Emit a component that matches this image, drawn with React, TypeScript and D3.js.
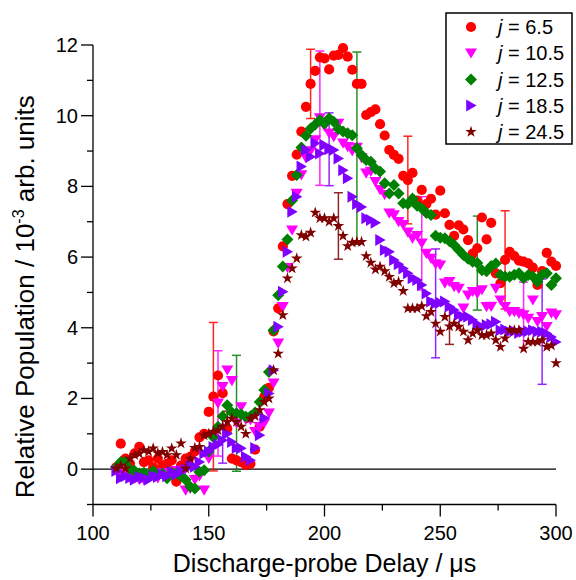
import React from "react";
import * as d3 from "d3";

const delays = [110,112,114,116,118,120,122,124,126,128,130,132,134,136,138,140,142,144,146,148,150,152,154,156,158,160,162,164,166,168,170,172,174,176,178,180,182,184,186,188,190,192,194,196,198,200,202,204,206,208,210,212,214,216,218,220,222,224,226,228,230,232,234,236,238,240,242,244,246,248,250,252,254,256,258,260,262,264,266,268,270,272,274,276,278,280,282,284,286,288,290,292,294,296,298,300];

const j65 = [0.05,0.72,0.3,0.15,0.45,0.63,0.2,0.25,0.05,0.3,
  0.1,0.15,0.25,-0.35,0.1,0.3,0.35,0.5,0.9,1.0,
  1.62,2.05,2.65,2.15,1.15,0.3,0.25,0.2,0.12,0.15,
  0.55,1.2,2.05,2.3,3.9,4.55,6.3,7.5,8.3,8.9,
  9.55,10.25,10.9,11.27,11.65,11.62,11.31,11.7,11.72,11.91,
  11.67,11.3,10.9,10.9,10.02,10.1,10.18,9.76,9.44,9.03,
  8.89,8.78,8.3,8.18,8.38,7.6,7.9,7.5,7.65,7.2,
  7.88,7.24,6.91,6.6,6.9,6.78,6.48,6.1,6.25,7.12,
  6.5,6.97,5.54,5.26,5.92,6.15,6.03,5.9,5.87,5.82,
  5.7,5.21,5.6,6.12,5.87,5.75];

const j105 = [-0.05,-0.15,-0.1,-0.25,-0.2,-0.3,-0.3,-0.2,-0.15,-0.25,
  -0.1,-0.2,-0.1,-0.05,-0.2,-0.6,-0.55,-0.3,-0.2,-0.6,
  0.3,0.9,1.86,2.33,2.8,2.5,1.3,1.76,1.4,1.39,
  1.06,1.2,1.3,1.58,2.43,3.56,4.59,5.7,6.76,7.8,
  8.32,8.8,9.0,9.31,9.93,9.7,9.5,9.4,9.78,9.22,
  9.12,9.0,9.1,8.8,8.37,8.42,8.13,7.9,7.76,7.24,
  7.19,7.0,6.91,6.7,6.53,6.6,6.39,6.1,5.96,5.8,
  5.77,5.26,5.3,5.16,5.11,4.55,4.92,5.02,4.97,5.07,
  4.59,4.6,5.11,4.78,4.59,4.45,4.45,4.4,4.36,4.26,
  4.78,4.17,4.31,4.03,4.41,4.36];

const j125 = [0.05,0.2,0.21,0.0,-0.05,-0.12,-0.1,-0.2,-0.05,-0.15,
  -0.12,-0.26,-0.1,-0.12,-0.2,-0.3,-0.5,-0.55,-0.07,-0.03,
  0.5,0.9,1.2,1.5,1.81,1.6,1.58,1.55,1.48,1.5,
  1.6,1.9,2.24,2.75,3.93,4.92,5.73,6.5,7.6,8.32,
  9.1,9.43,9.64,9.75,9.88,9.78,9.93,9.83,9.62,9.55,
  9.5,9.45,9.08,8.89,8.75,8.7,8.5,8.42,8.09,7.8,
  8.04,7.8,7.52,7.5,7.66,7.45,7.38,7.25,7.19,6.6,
  6.55,6.53,6.45,6.34,6.2,6.06,5.95,5.87,5.83,5.63,
  5.6,5.75,5.82,5.49,5.45,5.44,5.5,5.54,5.4,5.49,
  5.45,5.3,5.5,5.54,5.21,5.4];

const j185 = [-0.05,-0.26,-0.2,-0.25,-0.3,-0.22,-0.25,-0.3,-0.2,-0.22,
  -0.15,-0.2,-0.07,-0.15,-0.05,0.0,0.1,0.07,0.2,0.44,
  0.5,0.63,0.7,0.82,1.0,0.77,0.6,0.59,0.35,0.25,
  0.6,0.96,1.45,2.14,2.8,4.03,5.02,6.15,7.28,7.71,
  8.56,9.03,8.84,9.22,8.93,9.17,9.05,9.03,8.79,8.46,
  8.23,7.71,7.5,7.42,7.1,7.05,6.97,6.48,6.2,6.15,
  5.92,5.8,5.68,5.54,5.4,5.35,5.21,4.97,4.74,4.69,
  4.71,4.74,4.6,4.5,4.36,4.31,4.31,4.22,4.1,4.03,
  4.08,4.1,4.17,3.93,3.95,3.89,3.9,3.85,3.89,3.9,
  3.93,3.89,3.89,3.84,3.74,3.6];

const j245 = [0.02,0.1,0.02,0.3,0.4,0.44,0.54,0.5,0.59,0.45,
  0.49,0.4,0.59,0.4,0.73,0.02,0.3,0.6,0.63,0.96,
  1.0,1.06,1.1,1.2,1.34,1.43,1.34,1.2,1.0,1.43,
  1.5,1.67,1.9,2.0,2.8,3.27,4.36,5.4,5.68,5.96,
  6.62,6.58,6.69,7.26,7.1,7.1,7.0,7.1,6.88,6.6,
  6.31,6.41,6.43,6.43,6.03,5.84,5.65,5.73,5.6,5.44,
  5.26,5.3,5.04,4.55,4.55,4.55,4.61,4.33,4.45,4.12,
  3.89,4.31,4.04,4.12,4.03,3.89,3.65,3.84,3.93,3.79,
  3.79,3.84,3.65,3.46,3.7,3.93,3.93,3.93,3.41,3.6,
  3.6,3.6,3.65,3.46,3.5,3.0];

const errAt65 = [152, 194, 236, 278];
const errSize65 = [2.1, 0.98, 1.24, 1.39];
const errAt105 = [154, 198, 242, 286];
const errSize105 = [1.49, 1.9, 1.32, 0.93];
const errAt125 = [162, 214, 266];
const errSize125 = [1.64, 2.72, 1.33];
const errAt185 = [156, 202, 248, 294];
const errSize185 = [0.65, 1.03, 1.54, 1.49];
const errAt245 = [158, 206, 254];
const errSize245 = [0.3, 0.94, 0.51];

const seriesLabels = ["6.5", "10.5", "12.5", "18.5", "24.5"];
const seriesColors = ["#ff0000", "#ff00ff", "#008000", "#8000ff", "#800000"];
const xTicks = [100, 150, 200, 250, 300];
const xMinor = [125, 175, 225, 275];
const yTicks = [0, 2, 4, 6, 8, 10, 12];
const yMinor = [-1, 1, 3, 5, 7, 9, 11];

const FONT = "'Liberation Sans', Arial, Helvetica, sans-serif";

const starPath = d3.symbol(d3.symbolStar, 42)() as string;
const shapes: string[] = [
  "",
  "M-6,-4.8L6,-4.8L0,5.4Z",
  "M0,-6L6,0L0,6L-6,0Z",
  "M-4.8,-6L5.6,0L-4.8,6Z",
  starPath,
];

function Marker({ kind, color, x, y }: { kind: number; color: string; x: number; y: number }) {
  if (kind === 0) return <circle cx={x} cy={y} r={5.1} fill={color} />;
  return <path d={shapes[kind]} transform={`translate(${x},${y})`} fill={color} />;
}

export default function App() {
  const W = 576, H = 580;
  const x = d3.scaleLinear().domain([100, 300]).range([93, 556]);
  const y = d3.scaleLinear().domain([-1, 12]).range([504.5, 45]);

  const data = [j65, j105, j125, j185, j245];
  const errAt = [errAt65, errAt105, errAt125, errAt185, errAt245];
  const errSize = [errSize65, errSize105, errSize125, errSize185, errSize245];

  const x0 = x.range()[0], x1 = x.range()[1];
  const yb = y(-1), yt = y(12);

  return (
    <svg width={W} height={H} viewBox={`0 0 ${W} ${H}`}
      style={{ position: "absolute", left: 0, top: 0, display: "block", background: "#fff" }}
      fontFamily={FONT}>
      {/* zero line */}
      <line x1={x0} x2={x1} y1={y(0)} y2={y(0)} stroke="#000" strokeWidth={1.2} />

      {/* error bars */}
      {data.map((vals, si) =>
        errAt[si].map((xv, k) => {
          const idx = delays.indexOf(xv);
          const c = vals[idx];
          const e = errSize[si][k];
          const px = x(xv);
          return (
            <g key={`e${si}-${k}`} stroke={seriesColors[si]} strokeWidth={1.5} opacity={0.85}>
              <line x1={px} x2={px} y1={y(c - e)} y2={y(c + e)} />
              <line x1={px - 4.5} x2={px + 4.5} y1={y(c - e)} y2={y(c - e)} />
              <line x1={px - 4.5} x2={px + 4.5} y1={y(c + e)} y2={y(c + e)} />
            </g>
          );
        })
      )}

      {/* markers */}
      {data.map((vals, si) => (
        <g key={`s${si}`}>
          {vals.map((v, i) => (
            <Marker key={i} kind={si} color={seriesColors[si]} x={x(delays[i])} y={y(v)} />
          ))}
        </g>
      ))}

      {/* axes */}
      <line x1={x0} x2={x0} y1={yb} y2={yt} stroke="#000" strokeWidth={1.3} />
      <line x1={x0} x2={x1} y1={yb} y2={yb} stroke="#000" strokeWidth={1.3} />
      {yTicks.map((t) => (
        <g key={`yt${t}`}>
          <line x1={x0 - 12} x2={x0} y1={y(t)} y2={y(t)} stroke="#000" strokeWidth={1.3} />
          <text x={x0 - 15} y={y(t)} dy="0.35em" textAnchor="end" fontSize={20}>{t}</text>
        </g>
      ))}
      {yMinor.map((t) => (
        <line key={`ym${t}`} x1={x0 - 6} x2={x0} y1={y(t)} y2={y(t)} stroke="#000" strokeWidth={1.3} />
      ))}
      {xTicks.map((t) => (
        <g key={`xt${t}`}>
          <line x1={x(t)} x2={x(t)} y1={yb} y2={yb + 12} stroke="#000" strokeWidth={1.3} />
          <text x={x(t)} y={539.5} textAnchor="middle" fontSize={20}>{t}</text>
        </g>
      ))}
      {xMinor.map((t) => (
        <line key={`xm${t}`} x1={x(t)} x2={x(t)} y1={yb} y2={yb + 6} stroke="#000" strokeWidth={1.3} />
      ))}

      {/* axis titles */}
      <text x={(x0 + x1) / 2} y={572} textAnchor="middle" fontSize={25}>
        Discharge-probe Delay / μs
      </text>
      <text transform={`translate(34,${(yb + yt) / 2 + 22}) rotate(-90)`} textAnchor="middle" fontSize={26}>
        Relative Population / 10<tspan dy="-10" fontSize={16}>-3</tspan><tspan dy="10"> arb. units</tspan>
      </text>

      {/* legend */}
      <rect x={446} y={13} width={126} height={131} fill="#fff" stroke="#000" strokeWidth={1.5} />
      {seriesLabels.map((lab, i) => {
        const ly = 27 + i * 26.2;
        return (
          <g key={`l${i}`}>
            <Marker kind={i} color={seriesColors[i]} x={471} y={ly} />
            <text x={498} y={ly} dy="0.36em" fontSize={20}>
              <tspan fontStyle="italic">j</tspan> = {lab}
            </text>
          </g>
        );
      })}
    </svg>
  );
}
